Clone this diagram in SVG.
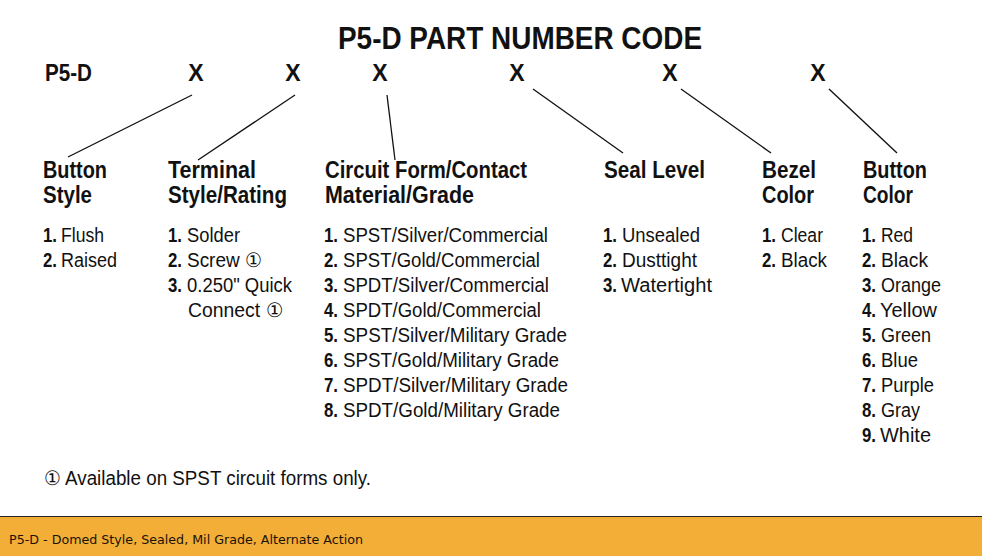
<svg xmlns="http://www.w3.org/2000/svg" width="982" height="556" viewBox="0 0 982 556">
<style>
text{font-family:"Liberation Sans",Arial,sans-serif;fill:#111;}
.title{font-size:32px;font-weight:bold;}
.code{font-size:23px;font-weight:bold;}
.hd{font-size:23px;font-weight:bold;}
.li{font-size:20px;}
.n{font-size:20px;font-weight:bold;}
.conn line{stroke:#111;stroke-width:1.3;}
.band-text{font-family:"DejaVu Sans",Verdana,sans-serif;font-size:12px;fill:#1a1208;}
</style>
<rect width="982" height="556" fill="#fff"/>
<g id="title">
<text class="title" x="338" y="49" textLength="364" lengthAdjust="spacingAndGlyphs">P5-D PART NUMBER CODE</text>
</g>
<g id="code-row">
<text class="code" x="45" y="81" textLength="47" lengthAdjust="spacingAndGlyphs">P5-D</text>
<text class="code" x="196" y="81" text-anchor="middle">X</text>
<text class="code" x="293" y="81" text-anchor="middle">X</text>
<text class="code" x="380" y="81" text-anchor="middle">X</text>
<text class="code" x="517" y="81" text-anchor="middle">X</text>
<text class="code" x="670" y="81" text-anchor="middle">X</text>
<text class="code" x="818" y="81" text-anchor="middle">X</text>
</g>
<g id="connectors" class="conn">
<line x1="192" y1="95" x2="68" y2="157"/>
<line x1="295" y1="95" x2="198" y2="160"/>
<line x1="387" y1="95" x2="395" y2="160"/>
<line x1="533" y1="89" x2="623" y2="153"/>
<line x1="681" y1="89" x2="771" y2="153"/>
<line x1="829" y1="89" x2="897" y2="153"/>
</g>
<g id="button-style">
<text class="hd" x="43" y="178" textLength="64" lengthAdjust="spacingAndGlyphs">Button</text>
<text class="hd" x="43" y="203" textLength="49" lengthAdjust="spacingAndGlyphs">Style</text>
<text class="n" x="43" y="242" textLength="14" lengthAdjust="spacingAndGlyphs">1.</text><text class="li" x="61" y="242" textLength="43" lengthAdjust="spacingAndGlyphs">Flush</text>
<text class="n" x="43" y="267" textLength="14" lengthAdjust="spacingAndGlyphs">2.</text><text class="li" x="61" y="267" textLength="56" lengthAdjust="spacingAndGlyphs">Raised</text>
</g>
<g id="terminal-style">
<text class="hd" x="168" y="178" textLength="88" lengthAdjust="spacingAndGlyphs">Terminal</text>
<text class="hd" x="168" y="203" textLength="119" lengthAdjust="spacingAndGlyphs">Style/Rating</text>
<text class="n" x="168" y="242" textLength="14" lengthAdjust="spacingAndGlyphs">1.</text><text class="li" x="187" y="242" textLength="53" lengthAdjust="spacingAndGlyphs">Solder</text>
<text class="n" x="168" y="267" textLength="14" lengthAdjust="spacingAndGlyphs">2.</text><text class="li" x="187" y="267" textLength="75" lengthAdjust="spacingAndGlyphs">Screw ①</text>
<text class="n" x="168" y="292" textLength="14" lengthAdjust="spacingAndGlyphs">3.</text><text class="li" x="187" y="292" textLength="105" lengthAdjust="spacingAndGlyphs">0.250" Quick</text>
<text class="li" x="188" y="317" textLength="95" lengthAdjust="spacingAndGlyphs">Connect ①</text>
</g>
<g id="circuit-form">
<text class="hd" x="325" y="178" textLength="202" lengthAdjust="spacingAndGlyphs">Circuit Form/Contact</text>
<text class="hd" x="325" y="203" textLength="149" lengthAdjust="spacingAndGlyphs">Material/Grade</text>
<text class="n" x="324" y="242" textLength="14" lengthAdjust="spacingAndGlyphs">1.</text><text class="li" x="343" y="242" textLength="205" lengthAdjust="spacingAndGlyphs">SPST/Silver/Commercial</text>
<text class="n" x="324" y="267" textLength="14" lengthAdjust="spacingAndGlyphs">2.</text><text class="li" x="343" y="267" textLength="197" lengthAdjust="spacingAndGlyphs">SPST/Gold/Commercial</text>
<text class="n" x="324" y="292" textLength="14" lengthAdjust="spacingAndGlyphs">3.</text><text class="li" x="343" y="292" textLength="206" lengthAdjust="spacingAndGlyphs">SPDT/Silver/Commercial</text>
<text class="n" x="324" y="317" textLength="14" lengthAdjust="spacingAndGlyphs">4.</text><text class="li" x="343" y="317" textLength="198" lengthAdjust="spacingAndGlyphs">SPDT/Gold/Commercial</text>
<text class="n" x="324" y="342" textLength="14" lengthAdjust="spacingAndGlyphs">5.</text><text class="li" x="343" y="342" textLength="224" lengthAdjust="spacingAndGlyphs">SPST/Silver/Military Grade</text>
<text class="n" x="324" y="367" textLength="14" lengthAdjust="spacingAndGlyphs">6.</text><text class="li" x="343" y="367" textLength="216" lengthAdjust="spacingAndGlyphs">SPST/Gold/Military Grade</text>
<text class="n" x="324" y="392" textLength="14" lengthAdjust="spacingAndGlyphs">7.</text><text class="li" x="343" y="392" textLength="225" lengthAdjust="spacingAndGlyphs">SPDT/Silver/Military Grade</text>
<text class="n" x="324" y="417" textLength="14" lengthAdjust="spacingAndGlyphs">8.</text><text class="li" x="343" y="417" textLength="217" lengthAdjust="spacingAndGlyphs">SPDT/Gold/Military Grade</text>
</g>
<g id="seal-level">
<text class="hd" x="604" y="178" textLength="101" lengthAdjust="spacingAndGlyphs">Seal Level</text>
<text class="n" x="603" y="242" textLength="14" lengthAdjust="spacingAndGlyphs">1.</text><text class="li" x="622" y="242" textLength="78" lengthAdjust="spacingAndGlyphs">Unsealed</text>
<text class="n" x="603" y="267" textLength="14" lengthAdjust="spacingAndGlyphs">2.</text><text class="li" x="622" y="267" textLength="75" lengthAdjust="spacingAndGlyphs">Dusttight</text>
<text class="n" x="603" y="292" textLength="14" lengthAdjust="spacingAndGlyphs">3.</text><text class="li" x="621" y="292" textLength="91" lengthAdjust="spacingAndGlyphs">Watertight</text>
</g>
<g id="bezel-color">
<text class="hd" x="762" y="178" textLength="54" lengthAdjust="spacingAndGlyphs">Bezel</text>
<text class="hd" x="762" y="203" textLength="52" lengthAdjust="spacingAndGlyphs">Color</text>
<text class="n" x="762" y="242" textLength="14" lengthAdjust="spacingAndGlyphs">1.</text><text class="li" x="781" y="242" textLength="42" lengthAdjust="spacingAndGlyphs">Clear</text>
<text class="n" x="762" y="267" textLength="14" lengthAdjust="spacingAndGlyphs">2.</text><text class="li" x="781" y="267" textLength="46" lengthAdjust="spacingAndGlyphs">Black</text>
</g>
<g id="button-color">
<text class="hd" x="863" y="178" textLength="64" lengthAdjust="spacingAndGlyphs">Button</text>
<text class="hd" x="863" y="203" textLength="50" lengthAdjust="spacingAndGlyphs">Color</text>
<text class="n" x="862" y="242" textLength="14" lengthAdjust="spacingAndGlyphs">1.</text><text class="li" x="881" y="242" textLength="32" lengthAdjust="spacingAndGlyphs">Red</text>
<text class="n" x="862" y="267" textLength="14" lengthAdjust="spacingAndGlyphs">2.</text><text class="li" x="881" y="267" textLength="47" lengthAdjust="spacingAndGlyphs">Black</text>
<text class="n" x="862" y="292" textLength="14" lengthAdjust="spacingAndGlyphs">3.</text><text class="li" x="881" y="292" textLength="60" lengthAdjust="spacingAndGlyphs">Orange</text>
<text class="n" x="862" y="317" textLength="14" lengthAdjust="spacingAndGlyphs">4.</text><text class="li" x="880" y="317" textLength="57" lengthAdjust="spacingAndGlyphs">Yellow</text>
<text class="n" x="862" y="342" textLength="14" lengthAdjust="spacingAndGlyphs">5.</text><text class="li" x="881" y="342" textLength="50" lengthAdjust="spacingAndGlyphs">Green</text>
<text class="n" x="862" y="367" textLength="14" lengthAdjust="spacingAndGlyphs">6.</text><text class="li" x="881" y="367" textLength="37" lengthAdjust="spacingAndGlyphs">Blue</text>
<text class="n" x="862" y="392" textLength="14" lengthAdjust="spacingAndGlyphs">7.</text><text class="li" x="881" y="392" textLength="53" lengthAdjust="spacingAndGlyphs">Purple</text>
<text class="n" x="862" y="417" textLength="14" lengthAdjust="spacingAndGlyphs">8.</text><text class="li" x="881" y="417" textLength="39" lengthAdjust="spacingAndGlyphs">Gray</text>
<text class="n" x="862" y="442" textLength="14" lengthAdjust="spacingAndGlyphs">9.</text><text class="li" x="880" y="442" textLength="51" lengthAdjust="spacingAndGlyphs">White</text>
</g>
<g id="footnote">
<text class="li" x="44" y="485" textLength="327" lengthAdjust="spacingAndGlyphs">① Available on SPST circuit forms only.</text>
</g>
<g id="caption-band">
<rect x="0" y="516" width="982" height="40" fill="#F2AE36"/>
<line x1="0" y1="516.5" x2="982" y2="516.5" stroke="#222" stroke-width="1.2"/>
<text class="band-text" x="9" y="544" textLength="354" lengthAdjust="spacingAndGlyphs">P5-D - Domed Style, Sealed, Mil Grade, Alternate Action</text>
</g>
</svg>
